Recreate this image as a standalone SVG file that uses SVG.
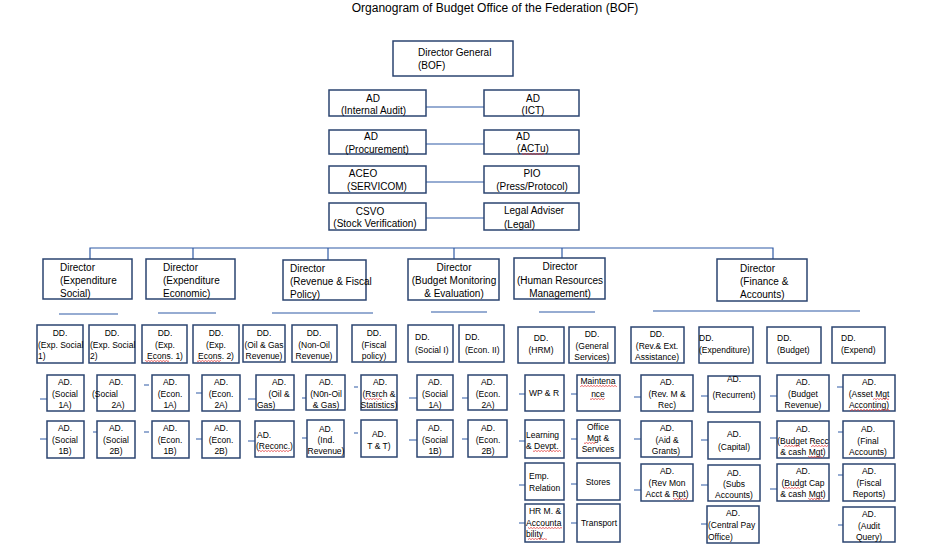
<svg xmlns="http://www.w3.org/2000/svg" width="932" height="555" viewBox="0 0 932 555">
<style>
.b{fill:#fff;stroke:#2b4470;stroke-width:1.5}
.l{stroke:#2f5aa5;stroke-width:1.2;fill:none}
text{font-family:"Liberation Sans",Arial,sans-serif;fill:#000}
.t{font-size:8.5px}
.d{font-size:10px}
.m{text-anchor:middle}
.sq{fill:url(#sq)}
</style>
<defs>
<pattern id="sq" width="3" height="2" patternUnits="userSpaceOnUse"><path d="M0,1.6 L1.5,0.4 L3,1.6" stroke="#e02020" stroke-width="0.7" fill="none"/></pattern>
</defs>
<rect width="932" height="555" fill="#fff"/>
<text x="495" y="12" class="m" font-size="12">Organogram of Budget Office of the Federation (BOF)</text>

<g id="connectors">
<line class="l" x1="426" y1="107" x2="484" y2="107"/>
<line class="l" x1="426" y1="144" x2="484" y2="144"/>
<line class="l" x1="426" y1="182" x2="484" y2="182"/>
<line class="l" x1="426" y1="218" x2="484" y2="218"/>
<path class="l" d="M90,259V248H773V259M193,248V259M328,248V260M454,248V259M562,248V258"/>
<line class="l" x1="59" y1="314" x2="118" y2="314"/>
<line class="l" x1="158" y1="313" x2="216" y2="313"/>
<line class="l" x1="272" y1="313" x2="373" y2="313"/>
<line class="l" x1="431" y1="312" x2="487" y2="312"/>
<line class="l" x1="539" y1="312" x2="595" y2="312"/>
<line class="l" x1="653" y1="311" x2="860" y2="311" stroke-width="1.5"/>
<path class="l" d="M40,399H47M144,385H149M196,393H202M40,439H47M93,432H97M144,432H149M196,439H202
M248,399H256M302,398H306M354,387H358M248,441H255M302,438H307M354,433H358
M409,398H417M462,398H468M409,440H417M462,439H468
M519,394H525M571,394H577M519,441H525M571,439H577M519,485H525M571,484H577M519,523H530M571,523H580
M634,397H641M701,396H708M770,396H777M837,387H843
M634,439H641M701,440H708M770,438H777M838,432H843
M634,490H641M701,485H708M770,489H777M838,475H843
M701,524H707M838,525H843"/>
</g>

<g id="dg"><rect class="b" x="393" y="41" width="120" height="35"/><text class="d" x="418" y="56">Director General</text><text class="d" x="418" y="69">(BOF)</text></g>
<g id="ad-internal-audit"><rect class="b" x="329" y="90" width="97" height="26"/><text class="d m" x="373" y="102">AD</text><text class="d" x="341" y="114">(Internal Audit)</text></g>
<g id="ad-ict"><rect class="b" x="484" y="90" width="95" height="26"/><text class="d m" x="533" y="102">AD</text><text class="d m" x="533" y="114">(ICT)</text></g>
<g id="ad-procurement"><rect class="b" x="329" y="130" width="97" height="24"/><text class="d m" x="371" y="140">AD</text><text class="d m" x="377" y="153">(Procurement)</text></g>
<g id="ad-actu"><rect class="b" x="484" y="130" width="95" height="24"/><text class="d m" x="523" y="140">AD</text><text class="d m" x="533" y="152">(ACTu)</text><rect class="sq" x="522" y="153" width="22" height="2"/></g>
<g id="aceo"><rect class="b" x="329" y="166" width="97" height="27"/><text class="d m" x="363" y="177">ACEO</text><text class="d m" x="377" y="190">(SERVICOM)</text></g>
<g id="pio"><rect class="b" x="484" y="166" width="95" height="27"/><text class="d m" x="532" y="177">PIO</text><text class="d m" x="532" y="190">(Press/Protocol)</text></g>
<g id="csvo"><rect class="b" x="329" y="203" width="97" height="27"/><text class="d m" x="370" y="215">CSVO</text><text class="d m" x="375" y="227">(Stock Verification)</text></g>
<g id="legal"><rect class="b" x="484" y="203" width="95" height="27"/><text class="d" x="504" y="214">Legal Adviser</text><text class="d" x="504" y="228">(Legal)</text></g>

<g id="dir-exp-social"><rect class="b" x="43" y="259" width="89" height="40"/><text class="d" x="60" y="271">Director</text><text class="d" x="60" y="284">(Expenditure</text><text class="d" x="60" y="297">Social)</text></g>
<g id="dir-exp-economic"><rect class="b" x="146" y="259" width="89" height="40"/><text class="d" x="163" y="271">Director</text><text class="d" x="163" y="284">(Expenditure</text><text class="d" x="163" y="297">Economic)</text></g>
<g id="dir-revenue"><rect class="b" x="283" y="260" width="83" height="40"/><text class="d" x="290" y="272">Director</text><text class="d" x="290" y="285">(Revenue &amp; Fiscal</text><text class="d" x="290" y="298">Policy)</text></g>
<g id="dir-bme"><rect class="b" x="408" y="259" width="91" height="41"/><text class="d m" x="454" y="271">Director</text><text class="d m" x="454" y="284">(Budget Monitoring</text><text class="d m" x="454" y="297">&amp; Evaluation)</text></g>
<g id="dir-hrm"><rect class="b" x="514" y="258" width="91" height="41"/><text class="d m" x="560" y="270">Director</text><text class="d m" x="560" y="284">(Human Resources</text><text class="d m" x="560" y="297">Management)</text></g>
<g id="dir-finance"><rect class="b" x="717" y="259" width="90" height="42"/><text class="d" x="740" y="272">Director</text><text class="d" x="740" y="285">(Finance &amp;</text><text class="d" x="740" y="298">Accounts)</text></g>

<g id="dd-exp-social-1"><rect class="b" x="37" y="325" width="46" height="38"/><text class="t m" x="60" y="336">DD.</text><text class="t" x="38" y="348">(Exp. Social</text><text class="t" x="38" y="359">1)</text></g>
<g id="dd-exp-social-2"><rect class="b" x="89" y="325" width="46" height="38"/><text class="t m" x="112" y="336">DD.</text><text class="t" x="90" y="348">(Exp.  Social</text><text class="t" x="90" y="359">2)</text></g>
<g id="dd-exp-econs-1"><rect class="b" x="142" y="325" width="45" height="38"/><text class="t m" x="165" y="336">DD.</text><text class="t m" x="165" y="348">(Exp.</text><text class="t m" x="165" y="359">Econs. 1)</text><rect class="sq" x="145" y="360" width="24" height="2"/></g>
<g id="dd-exp-econs-2"><rect class="b" x="193" y="325" width="46" height="38"/><text class="t m" x="216" y="336">DD.</text><text class="t m" x="216" y="348">(Exp.</text><text class="t m" x="216" y="359">Econs. 2)</text><rect class="sq" x="197" y="360" width="24" height="2"/></g>
<g id="dd-oil-gas"><rect class="b" x="243" y="325" width="42" height="37"/><text class="t m" x="264" y="336">DD.</text><text class="t m" x="264" y="348">(Oil &amp; Gas</text><text class="t m" x="264" y="359">Revenue)</text></g>
<g id="dd-non-oil"><rect class="b" x="292" y="325" width="45" height="37"/><text class="t m" x="314" y="336">DD.</text><text class="t m" x="314" y="348">(Non-Oil</text><text class="t m" x="314" y="359">Revenue)</text></g>
<g id="dd-fiscal"><rect class="b" x="352" y="325" width="44" height="37"/><text class="t m" x="374" y="336">DD.</text><text class="t m" x="374" y="348">(Fiscal</text><text class="t m" x="374" y="359">policy)</text></g>
<g id="dd-social-i"><rect class="b" x="408" y="325" width="45" height="37"/><text class="t" x="415" y="340">DD.</text><text class="t" x="415" y="353">(Social I)</text></g>
<g id="dd-econ-ii"><rect class="b" x="459" y="325" width="45" height="37"/><text class="t" x="465" y="340">DD.</text><text class="t" x="465" y="353">(Econ. II)</text></g>
<g id="dd-hrm"><rect class="b" x="518" y="327" width="46" height="36"/><text class="t m" x="541" y="341">DD.</text><text class="t m" x="541" y="353">(HRM)</text></g>
<g id="dd-general-services"><rect class="b" x="569" y="327" width="46" height="36"/><text class="t m" x="592" y="337">DD.</text><text class="t m" x="592" y="349">(General</text><text class="t m" x="592" y="360">Services)</text></g>
<g id="dd-rev-ext"><rect class="b" x="631" y="327" width="53" height="36"/><text class="t m" x="657" y="337">DD.</text><text class="t m" x="657" y="349">(Rev.&amp; Ext.</text><text class="t m" x="657" y="360">Assistance)</text></g>
<g id="dd-expenditure"><rect class="b" x="699" y="327" width="54" height="36"/><text class="t" x="699" y="341">DD.</text><text class="t" x="699" y="353">(Expenditure)</text></g>
<g id="dd-budget"><rect class="b" x="767" y="327" width="54" height="36"/><text class="t" x="777" y="341">DD.</text><text class="t" x="777" y="353">(Budget)</text></g>
<g id="dd-expend"><rect class="b" x="832" y="327" width="53" height="36"/><text class="t" x="841" y="341">DD.</text><text class="t" x="841" y="353">(Expend)</text></g>

<g id="ad-social-1a"><rect class="b" x="47" y="375" width="37" height="36"/><text class="t m" x="65" y="385">AD.</text><text class="t m" x="65" y="397">(Social</text><text class="t m" x="65" y="408">1A)</text></g>
<g id="ad-social-2a"><rect class="b" x="97" y="375" width="38" height="36"/><text class="t m" x="116" y="385">AD.</text><text class="t" x="92" y="397">(Social</text><text class="t m" x="118" y="408">2A)</text></g>
<g id="ad-econ-1a"><rect class="b" x="152" y="375" width="37" height="36"/><text class="t m" x="170" y="385">AD.</text><text class="t m" x="170" y="397">(Econ.</text><text class="t m" x="170" y="408">1A)</text></g>
<g id="ad-econ-2a"><rect class="b" x="202" y="375" width="38" height="36"/><text class="t m" x="221" y="385">AD.</text><text class="t m" x="221" y="397">(Econ.</text><text class="t m" x="221" y="408">2A)</text></g>
<g id="ad-social-1b"><rect class="b" x="47" y="421" width="37" height="37"/><text class="t m" x="65" y="431">AD.</text><text class="t m" x="65" y="443">(Social</text><text class="t m" x="65" y="454">1B)</text></g>
<g id="ad-social-2b"><rect class="b" x="97" y="421" width="38" height="37"/><text class="t m" x="116" y="431">AD.</text><text class="t m" x="116" y="443">(Social</text><text class="t m" x="116" y="454">2B)</text></g>
<g id="ad-econ-1b"><rect class="b" x="152" y="421" width="37" height="37"/><text class="t m" x="170" y="431">AD.</text><text class="t m" x="170" y="443">(Econ.</text><text class="t m" x="170" y="454">1B)</text></g>
<g id="ad-econ-2b"><rect class="b" x="202" y="421" width="38" height="37"/><text class="t m" x="221" y="431">AD.</text><text class="t m" x="221" y="443">(Econ.</text><text class="t m" x="221" y="454">2B)</text></g>

<g id="ad-oil-gas"><rect class="b" x="256" y="375" width="38" height="35"/><text class="t m" x="279" y="385">AD.</text><text class="t m" x="279" y="397">(Oil &amp;</text><text class="t" x="257" y="408">Gas)</text></g>
<g id="ad-non-oil-gas"><rect class="b" x="306" y="375" width="39" height="35"/><text class="t m" x="326" y="385">AD.</text><text class="t m" x="326" y="397">(N0n-Oil</text><text class="t m" x="326" y="408">&amp; Gas)</text></g>
<g id="ad-rsrch"><rect class="b" x="361" y="375" width="36" height="35"/><text class="t m" x="380" y="385">AD.</text><text class="t m" x="379" y="397">(Rsrch &amp;</text><text class="t m" x="379" y="408">Statistics)</text><rect class="sq" x="365" y="398" width="17" height="2"/></g>
<g id="ad-bme-social-1a"><rect class="b" x="417" y="375" width="36" height="35"/><text class="t m" x="435" y="385">AD.</text><text class="t m" x="435" y="397">(Social</text><text class="t m" x="435" y="408">1A)</text></g>
<g id="ad-bme-econ-2a"><rect class="b" x="468" y="375" width="39" height="35"/><text class="t m" x="488" y="385">AD.</text><text class="t m" x="488" y="397">(Econ.</text><text class="t m" x="488" y="408">2A)</text></g>
<g id="ad-reconc"><rect class="b" x="255" y="421" width="39" height="36"/><text class="t" x="257" y="438">AD.</text><text class="t" x="256" y="449">(Reconc.)</text><rect class="sq" x="258" y="450" width="32" height="2"/></g>
<g id="ad-ind-revenue"><rect class="b" x="307" y="420" width="37" height="37"/><text class="t m" x="326" y="432">AD.</text><text class="t m" x="326" y="443">(Ind.</text><text class="t m" x="326" y="454">Revenue)</text></g>
<g id="ad-t-t"><rect class="b" x="361" y="420" width="36" height="37"/><text class="t m" x="379" y="437">AD.</text><text class="t m" x="379" y="449">T &amp; T)</text></g>
<g id="ad-bme-social-1b"><rect class="b" x="417" y="420" width="36" height="37"/><text class="t m" x="435" y="431">AD.</text><text class="t m" x="435" y="443">(Social</text><text class="t m" x="435" y="454">1B)</text></g>
<g id="ad-bme-econ-2b"><rect class="b" x="468" y="420" width="39" height="37"/><text class="t m" x="488" y="431">AD.</text><text class="t m" x="488" y="443">(Econ.</text><text class="t m" x="488" y="454">2B)</text></g>

<g id="ad-wp-r"><rect class="b" x="525" y="375" width="39" height="36"/><text class="t m" x="544" y="396">WP &amp; R</text></g>
<g id="ad-maintenance"><rect class="b" x="577" y="375" width="43" height="36"/><text class="t m" x="598" y="384">Maintena</text><text class="t m" x="598" y="397">nce</text><rect class="sq" x="580" y="385" width="37" height="2"/><rect class="sq" x="590" y="398" width="15" height="2"/></g>
<g id="ad-learning"><rect class="b" x="525" y="420" width="39" height="38"/><text class="t" x="526" y="438">Learning</text><text class="t" x="526" y="449">&amp; Devpt.</text><rect class="sq" x="533" y="450" width="28" height="2"/></g>
<g id="ad-office-mgt"><rect class="b" x="577" y="420" width="43" height="38"/><text class="t m" x="598" y="430">Office</text><text class="t m" x="598" y="441">Mgt    &amp;</text><text class="t m" x="598" y="452">Services</text><rect class="sq" x="584" y="442" width="12" height="2"/></g>
<g id="ad-emp-relation"><rect class="b" x="525" y="463" width="39" height="37"/><text class="t" x="529" y="479">Emp.</text><text class="t" x="529" y="491">Relation</text></g>
<g id="ad-stores"><rect class="b" x="577" y="463" width="43" height="37"/><text class="t m" x="598" y="485">Stores</text></g>
<g id="ad-hr-accountability"><rect class="b" x="525" y="504" width="39" height="38"/><text class="t m" x="545" y="514">HR M. &amp;</text><text class="t" x="526" y="526">Accounta</text><text class="t" x="526" y="537">bility</text><rect class="sq" x="528" y="527" width="34" height="2"/><rect class="sq" x="528" y="538" width="19" height="2"/></g>
<g id="ad-transport"><rect class="b" x="577" y="504" width="43" height="38"/><text class="t m" x="599" y="526">Transport</text></g>

<g id="ad-rev-m-rec"><rect class="b" x="641" y="375" width="52" height="36"/><text class="t m" x="667" y="385">AD.</text><text class="t m" x="667" y="397">(Rev. M &amp;</text><text class="t m" x="667" y="408">Rec)</text></g>
<g id="ad-recurrent"><rect class="b" x="708" y="376" width="52" height="36"/><text class="t m" x="734" y="382">AD.</text><text class="t m" x="734" y="398">(Recurrent)</text></g>
<g id="ad-budget-revenue"><rect class="b" x="777" y="375" width="52" height="36"/><text class="t m" x="803" y="385">AD.</text><text class="t m" x="803" y="397">(Budget</text><text class="t m" x="803" y="408">Revenue)</text></g>
<g id="ad-asset-mgt"><rect class="b" x="843" y="375" width="52" height="36"/><text class="t m" x="869" y="385">AD.</text><text class="t m" x="869" y="397">(Asset Mgt</text><text class="t m" x="869" y="408">Acconting)</text><rect class="sq" x="873" y="398" width="16" height="2"/><rect class="sq" x="850" y="409" width="40" height="2"/></g>
<g id="ad-aid-grants"><rect class="b" x="641" y="421" width="51" height="36"/><text class="t m" x="667" y="431">AD.</text><text class="t m" x="667" y="443">(Aid      &amp;</text><text class="t m" x="666" y="454">Grants)</text></g>
<g id="ad-capital"><rect class="b" x="708" y="422" width="52" height="37"/><text class="t m" x="734" y="437">AD.</text><text class="t m" x="734" y="450">(Capital)</text></g>
<g id="ad-budget-recc"><rect class="b" x="777" y="421" width="52" height="37"/><text class="t m" x="803" y="432">AD.</text><text class="t m" x="803" y="444">(Budget  Recc</text><text class="t m" x="803" y="455">&amp; cash Mgt)</text><rect class="sq" x="784" y="445" width="16" height="2"/><rect class="sq" x="811" y="445" width="17" height="2"/><rect class="sq" x="808" y="456" width="14" height="2"/></g>
<g id="ad-final-accounts"><rect class="b" x="843" y="421" width="51" height="37"/><text class="t m" x="868" y="432">AD.</text><text class="t m" x="868" y="444">(Final</text><text class="t m" x="868" y="455">Accounts)</text></g>
<g id="ad-rev-mon"><rect class="b" x="641" y="464" width="52" height="37"/><text class="t m" x="667" y="474">AD.</text><text class="t m" x="667" y="486">(Rev     Mon</text><text class="t m" x="667" y="497">Acct &amp; Rpt)</text><rect class="sq" x="673" y="498" width="14" height="2"/></g>
<g id="ad-subs-accounts"><rect class="b" x="708" y="465" width="52" height="36"/><text class="t m" x="734" y="476">AD.</text><text class="t m" x="734" y="487">(Subs</text><text class="t m" x="734" y="498">Accounts)</text></g>
<g id="ad-budget-cap"><rect class="b" x="777" y="464" width="52" height="37"/><text class="t m" x="803" y="474">AD.</text><text class="t m" x="803" y="486">(Budgt   Cap</text><text class="t m" x="803" y="497">&amp; cash Mgt)</text><rect class="sq" x="783" y="487" width="17" height="2"/><rect class="sq" x="808" y="498" width="14" height="2"/></g>
<g id="ad-fiscal-reports"><rect class="b" x="843" y="464" width="52" height="37"/><text class="t m" x="869" y="474">AD.</text><text class="t m" x="869" y="486">(Fiscal</text><text class="t m" x="869" y="497">Reports)</text></g>
<g id="ad-central-pay"><rect class="b" x="707" y="506" width="52" height="37"/><text class="t m" x="733" y="516">AD.</text><text class="t" x="708" y="528">(Central Pay</text><text class="t" x="708" y="540">Office)</text></g>
<g id="ad-audit-query"><rect class="b" x="843" y="507" width="52" height="35"/><text class="t m" x="869" y="517">AD.</text><text class="t m" x="869" y="529">(Audit</text><text class="t m" x="869" y="540">Query)</text></g>
</svg>
